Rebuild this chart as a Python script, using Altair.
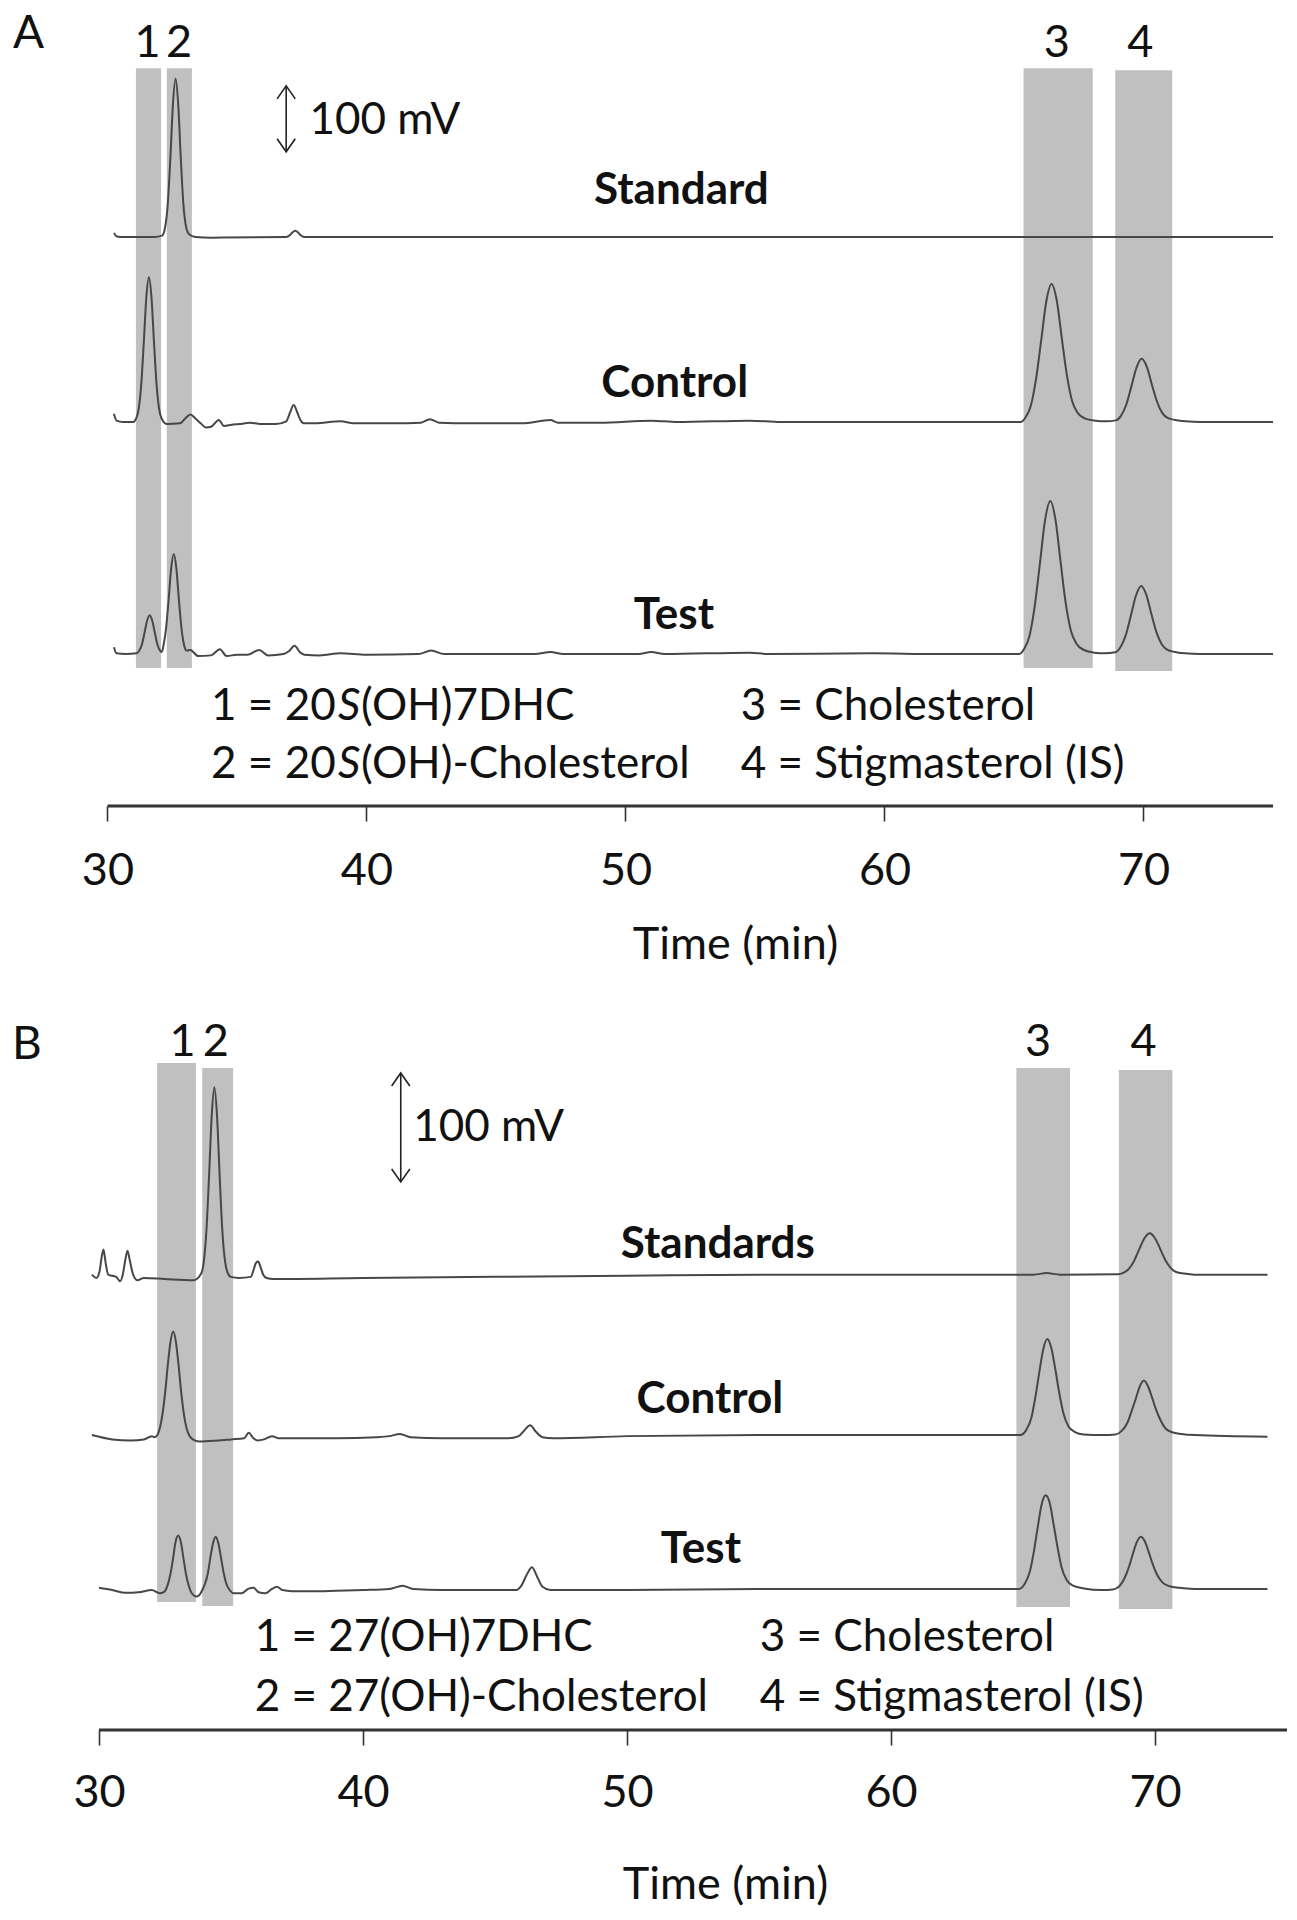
import altair as alt
import pandas as pd

FONT = "Lato"
LINE_COLOR = "#474747"
TEXT_COLOR = "#111111"
BAND_COLOR = "#c0c0c0"

# ---------------- Panel A traces: retention time (min) / signal above own baseline (mV)
A_STD_T = [30.25, 30.35, 30.5, 31.0, 31.8, 32.11, 32.23, 32.33, 32.43, 32.53, 32.63, 32.73, 32.83, 32.93, 33.03,
           33.15, 33.4, 34.0, 36.9, 37.05, 37.15, 37.25, 37.35, 37.45, 37.6, 40.0, 50.0, 60.0, 70.0, 75.0]
A_STD_V = [6, 1, 0, 0, 0, 2, 15, 49, 117, 196, 233, 196, 117, 49, 16,
           4, 0, -1, 0, 3, 7, 9, 7, 3, 0, 0, 0, 0, 0, 0]

A_CTL_T = [30.25, 30.35, 30.6, 31.0, 31.1, 31.2, 31.3, 31.4, 31.5, 31.6, 31.7, 31.8, 31.9, 32.0, 32.1,
           32.3, 32.8, 33.0, 33.2, 33.4, 33.6, 33.8, 34.0, 34.3, 34.5, 34.8, 35.1, 35.5, 35.9, 36.5,
           36.9, 37.05, 37.19, 37.33, 37.45, 37.6, 38.0, 39.0, 39.5, 41.0, 42.1, 42.45, 42.8, 44.0, 46.0,
           47.1, 47.4, 49.0, 51.0, 52.0, 54.8, 56.0, 60.0,
           65.25, 65.45, 65.65, 65.85, 66.05, 66.25, 66.45, 66.65, 66.85, 67.05, 67.25, 67.45, 67.75, 68.15, 68.55,
           68.93, 69.13, 69.33, 69.53, 69.73, 69.93, 70.13, 70.33, 70.53, 70.73, 70.93, 71.23, 71.63, 72.2, 75.0]
A_CTL_V = [12, 2, 0, 0, 4.5, 18, 53, 115, 183, 213, 183, 115, 53, 18, 4.5,
           -3, -2, 5, 11, 5, -2, -8, -7, 3, -6, -4, -3, -1, -3, -3,
           1, 14, 25, 14, 3, -2, -2, 1, -2, -2, -1, 4, -1, -2, -2,
           3, -1, -1, 2, 0, 2, 0, 0,
           0, 7, 24, 63, 120, 178, 203, 179, 122, 67, 30, 14, 5, 2, 1,
           2.4, 9, 25, 52, 80, 93, 81, 54, 29, 13, 6, 3, 1, 0, 0]

A_TST_T = [30.25, 30.35, 30.7, 31.13, 31.23, 31.33, 31.43, 31.53, 31.63, 31.73, 31.83, 31.93, 32.03, 32.1, 32.16,
           32.26, 32.36, 32.46, 32.56, 32.66, 32.76, 32.86, 32.96, 33.06, 33.2, 33.5, 34.0, 34.34, 34.6, 35.0,
           35.4, 35.86, 36.2, 36.8, 37.0, 37.22, 37.45, 37.6, 38.2, 39.0, 40.0, 42.0, 42.5, 43.0, 46.5,
           47.1, 47.6, 50.5, 51.0, 51.5, 54.8, 55.5, 59.5, 62.0,
           65.2, 65.4, 65.6, 65.8, 66.0, 66.2, 66.4, 66.6, 66.8, 67.0, 67.2, 67.4, 67.7, 68.1, 68.5,
           68.91, 69.11, 69.31, 69.51, 69.71, 69.91, 70.11, 70.31, 70.51, 70.71, 70.91, 71.21, 71.61, 72.2, 75.0]
A_TST_V = [10, 1, 0, 1, 5, 14, 31, 49, 57, 49, 31, 14, 5, 3, 12,
           37, 79, 126, 147, 126, 79, 37, 13, 5, 6, -3, -2, 7, -3, -1,
           -1, 6, -2, 0, 4, 12, 2, -1, -2, 1, -1, 0, 5, 0, 0,
           3, 0, 0, 3, 0, 2, 0, 1, 0,
           0, 8, 27, 70, 133, 197, 225, 198, 135, 74, 34, 16, 6, 2, 1,
           2.6, 10, 27, 56, 86, 100, 87, 58, 31, 14, 6.5, 3, 1, 0, 0]

# ---------------- Panel B traces
B_STD_T = [29.73, 29.9, 30.02, 30.1, 30.17, 30.25, 30.35, 30.5, 30.65, 30.8, 30.9, 31.0, 31.08, 31.16, 31.28,
           31.45, 31.7, 32.5, 33.6, 33.87, 33.97, 34.07, 34.17, 34.27, 34.37, 34.47, 34.57, 34.67, 34.77, 34.87,
           35.0, 35.3, 35.75, 35.85, 35.95, 36.03, 36.12, 36.22, 36.35, 36.6, 40.0, 45.0, 50.0, 55.0, 65.4,
           65.9, 66.4, 68.6, 68.8, 69.0, 69.2, 69.4, 69.6, 69.8, 70.0, 70.2, 70.4, 70.6, 70.8, 71.1,
           71.5, 74.26]
B_STD_V = [3, 0, 6, 19, 26, 14, 3, 2, 1, -3, 3, 17, 25, 17, 4,
           -2, 0, -1, -2, 4, 15, 44, 94, 149, 175, 149, 94, 44, 16, 5,
           1, 0, 1, 7, 14, 15, 10, 3, 0, -1, 0, 1, 2, 3, 3,
           4.5, 3, 3.4, 4.7, 8.1, 15.2, 26.2, 36.4, 41, 36.4, 26.5, 16, 9, 5.5, 4,
           3, 3]

B_CTL_T = [29.73, 30.5, 31.2, 31.7, 32.0, 32.11, 32.21, 32.31, 32.41, 32.51, 32.61, 32.71, 32.81, 32.91, 33.01,
           33.11, 33.21, 33.31, 33.41, 33.55, 33.8, 34.5, 35.0, 35.5, 35.67, 35.85, 36.0, 36.25, 36.55, 36.8,
           37.5, 39.0, 40.5, 41.0, 41.4, 41.8, 43.0, 45.5, 45.9, 46.1, 46.33, 46.55, 46.8, 47.2, 50.0,
           55.0, 60.0, 64.9, 65.12, 65.32, 65.47, 65.62, 65.77, 65.92, 66.07, 66.22, 66.37, 66.52, 66.72, 66.95,
           67.3, 68.0, 68.5, 68.75, 68.95, 69.13, 69.28, 69.43, 69.58, 69.73, 69.88, 70.03, 70.2, 70.4, 70.65,
           71.0, 71.5, 74.26]
B_CTL_V = [3, -1, -2, -1, 2, 1, 3, 10, 23, 43, 68, 89, 98, 89, 68,
           43, 23, 10, 3, -1, -3, -2, -1, 0, 5, 0, -2, -1, 2, 0,
           0, 0, 1, 2, 4, 1, 0, 0, 2, 7, 12, 6, 1, 0, 2,
           3, 3, 3, 7.5, 19, 38, 61, 82, 91, 83, 64, 42, 24, 11, 6,
           3.5, 3, 3.5, 7, 14, 26, 37, 48, 53, 48, 38, 27, 17, 9, 5.5,
           4, 3, 1.5]

B_TST_T = [30.0, 30.5, 31.0, 31.5, 32.0, 32.3, 32.45, 32.6, 32.7, 32.8, 32.9, 33.0, 33.1, 33.2, 33.3,
           33.4, 33.55, 33.7, 33.85, 33.95, 34.02, 34.12, 34.22, 34.32, 34.42, 34.52, 34.62, 34.72, 34.82, 34.95,
           35.1, 35.4, 35.65, 35.85, 36.05, 36.3, 36.55, 36.74, 36.95, 37.3, 38.5, 40.0, 41.0, 41.5, 41.9,
           43.0, 45.8, 46.0, 46.2, 46.4, 46.6, 46.8, 47.1, 50.0, 55.0, 60.0, 64.85, 65.06, 65.26, 65.41,
           65.56, 65.71, 65.86, 66.01, 66.16, 66.31, 66.46, 66.66, 66.9, 67.3, 68.0, 68.4, 68.65, 68.85, 69.01,
           69.16, 69.31, 69.46, 69.61, 69.76, 69.91, 70.08, 70.28, 70.55, 70.9, 71.5, 74.26]
B_TST_V = [2, 0, -2.5, -2, 0, -3, -2, 4.5, 14, 28, 44, 50, 44, 29, 14,
           4, -4, -6, -3, 2, 6, 15, 30, 43, 49, 43, 30, 16, 6, 0,
           -3, -3, 1, 2, -2, -3, 1, 3, 0, -1, -1, 0, 1, 4, 1,
           0, 0, 4, 14, 21, 12, 3, 0, 0, 1, 1, 1, 5.5, 17, 35,
           58, 79, 87, 80, 60, 39, 21, 9, 4, 1.5, 0, 0.5, 3.5, 11, 21,
           33, 44, 49, 45, 35, 24, 14, 7, 3.5, 2, 1, 1]

# ---------------- categories / labels
TRACES_A = ["Standard", "Control", "Test"]
TRACES_B = ["Standards", "Control", "Test"]
PEAK_IDS = ["1", "2", "3", "4"]
BAND_A_START = [31.1, 32.29, 65.37, 68.91]
BAND_A_END = [32.07, 33.26, 68.04, 71.11]
BAND_B_START = [32.2, 33.91, 64.75, 68.63]
BAND_B_END = [33.67, 35.08, 66.78, 70.66]
X_TICKS = [30, 40, 50, 60, 70]
X_AXIS_RANGE = [30, 75]
SCALE_BAR_MV = 100
LEGEND_A_LEFT = ["1 = 20", "2 = 20"]
LEGEND_A_ITALIC = ["S", "S"]
LEGEND_A_REST = ["(OH)7DHC", "(OH)-Cholesterol"]
LEGEND_A_RIGHT = ["3 = Cholesterol", "4 = Stigmasterol (IS)"]
LEGEND_B_LEFT = ["1 = 27(OH)7DHC", "2 = 27(OH)-Cholesterol"]
LEGEND_B_RIGHT = ["3 = Cholesterol", "4 = Stigmasterol (IS)"]

# ---------------- layout (positions in min / mV of each panel's own scales)
LAYOUT = {
    "A": dict(width=1265, height=798, xdom=[26.16, 75.0], ydom=[0, 1173.5],
              bases=[836.8, 564.7, 223.5],
              band_top=[1085, 1085, 1085, 1082], band_bot=[203, 203, 203, 198.5],
              peak_lab_t=[31.55, 32.76, 66.65, 69.88], peak_lab_y=1122,
              panel_t=26.95, panel_y=1135,
              arrow_t=36.9, arrow_top=1059, arrow_bot=962, mv_t=37.8, mv_y=1008,
              name_t=[52.16, 51.9, 51.87], name_y=[904, 620, 279],
              leg_t=[34.0, 54.45], leg_y=[146, 60],
              label_pad=49, title_x=727, title_y=138),
    "B": dict(width=1279, height=730, xdom=[26.553, 75.0], ydom=[0, 669.7],
              bases=[414.7, 267.6, 128.4],
              band_top=[611.9, 607.3, 607.3, 605.5], band_bot=[117.4, 113.8, 112.8, 111],
              peak_lab_t=[33.16, 34.42, 65.57, 69.57], peak_lab_y=631,
              panel_t=27.27, panel_y=628,
              arrow_t=41.43, arrow_top=602.8, arrow_bot=502.8, mv_t=41.9, mv_y=552,
              name_t=[53.44, 53.14, 52.8], name_y=[444.5, 302.8, 165.1],
              leg_t=[35.9, 55.03], leg_y=[84, 29.7],
              label_pad=47, title_x=717, title_y=154),
}


def build_panel(key, panel_label, names, t_lists, v_lists, band_start, band_end,
                legend_left, legend_right, legend_italic=None, legend_rest=None):
    L = LAYOUT[key]
    axis = alt.Axis(values=X_TICKS, format="d", domain=False, grid=False,
                    ticks=True, tickSize=15, tickWidth=1.6, tickColor="#333333",
                    labelFont=FONT, labelFontSize=45, labelColor=TEXT_COLOR,
                    labelBaseline="middle", labelPadding=L["label_pad"], labelFlush=False,
                    title="Time (min)", titleFont=FONT, titleFontSize=45,
                    titleFontWeight="normal", titleColor=TEXT_COLOR,
                    titleX=L["title_x"], titleY=L["title_y"],
                    titleAlign="center", titleBaseline="middle")
    xs = alt.Scale(domain=L["xdom"], nice=False, zero=False)
    ys = alt.Scale(domain=L["ydom"], nice=False, zero=False)
    X = lambda f: alt.X(f"{f}:Q", scale=xs, axis=axis)
    Y = lambda f: alt.Y(f"{f}:Q", scale=ys, axis=None)

    rows = []
    for name, ts, vs, base in zip(names, t_lists, v_lists, L["bases"]):
        for t, v in zip(ts, vs):
            rows.append({"t": t, "y": base + v, "trace": name})
    traces = pd.DataFrame(rows)

    bands = pd.DataFrame({"t": band_start, "t2": band_end,
                          "y": L["band_top"], "y2": L["band_bot"], "label": PEAK_IDS})
    band_layer = alt.Chart(bands).mark_rect(color=BAND_COLOR).encode(
        x=X("t"), x2="t2", y=Y("y"), y2="y2")

    line_layer = alt.Chart(traces).mark_line(
        interpolate="monotone", color=LINE_COLOR, strokeWidth=2).encode(
        x=X("t"), y=Y("y"), detail="trace:N", order="t:Q")

    txt = dict(font=FONT, color=TEXT_COLOR, baseline="middle")

    peak_lab = pd.DataFrame({"t": L["peak_lab_t"], "y": [L["peak_lab_y"]] * 4, "label": PEAK_IDS})
    peak_layer = alt.Chart(peak_lab).mark_text(fontSize=45, align="center", **txt).encode(
        x=X("t"), y=Y("y"), text="label:N")

    pl = pd.DataFrame({"t": [L["panel_t"]], "y": [L["panel_y"]], "label": [panel_label]})
    panel_layer = alt.Chart(pl).mark_text(fontSize=46, align="center", **txt).encode(
        x=X("t"), y=Y("y"), text="label:N")

    nm = pd.DataFrame({"t": L["name_t"], "y": L["name_y"], "label": names})
    name_layer = alt.Chart(nm).mark_text(fontSize=44, fontWeight="bold", align="center", **txt).encode(
        x=X("t"), y=Y("y"), text="label:N")

    # 100 mV scale bar
    bar = pd.DataFrame({"t": [L["arrow_t"]], "y": [L["arrow_top"]], "y2": [L["arrow_bot"]]})
    bar_layer = alt.Chart(bar).mark_rule(color="#222222", strokeWidth=1.6).encode(
        x=X("t"), y=Y("y"), y2="y2")
    head_up = alt.Chart(bar).mark_point(shape="M-0.7,1L0,0L0.7,1", size=676, filled=False,
                                        color="#222222", strokeWidth=1.6, opacity=1).encode(
        x=X("t"), y=Y("y"))
    head_dn = alt.Chart(bar).mark_point(shape="M-0.7,-1L0,0L0.7,-1", size=676, filled=False,
                                        color="#222222", strokeWidth=1.6, opacity=1).encode(
        x=X("t"), y=Y("y2"))
    mv = pd.DataFrame({"t": [L["mv_t"]], "y": [L["mv_y"]], "label": [f"{SCALE_BAR_MV} mV"]})
    mv_layer = alt.Chart(mv).mark_text(fontSize=44, align="left", **txt).encode(
        x=X("t"), y=Y("y"), text="label:N")

    # compound legend
    layers_leg = []
    lr = pd.DataFrame({"t": [L["leg_t"][1]] * 2, "y": L["leg_y"], "label": legend_right})
    layers_leg.append(alt.Chart(lr).mark_text(fontSize=44, align="left", **txt).encode(
        x=X("t"), y=Y("y"), text="label:N"))
    ll = pd.DataFrame({"t": [L["leg_t"][0]] * 2, "y": L["leg_y"], "label": legend_left})
    layers_leg.append(alt.Chart(ll).mark_text(fontSize=44, align="left", **txt).encode(
        x=X("t"), y=Y("y"), text="label:N"))
    if legend_italic is not None:
        li = pd.DataFrame({"t": [L["leg_t"][0]] * 2, "y": L["leg_y"], "label": legend_italic})
        layers_leg.append(alt.Chart(li).mark_text(fontSize=44, align="left", dx=127,
                                                  fontStyle="italic", **txt).encode(
            x=X("t"), y=Y("y"), text="label:N"))
        lrest = pd.DataFrame({"t": [L["leg_t"][0]] * 2, "y": L["leg_y"], "label": legend_rest})
        layers_leg.append(alt.Chart(lrest).mark_text(fontSize=44, align="left", dx=150, **txt).encode(
            x=X("t"), y=Y("y"), text="label:N"))

    ax = pd.DataFrame({"t": [X_AXIS_RANGE[0]], "t2": [X_AXIS_RANGE[1]], "y": [0]})
    axis_layer = alt.Chart(ax).mark_rule(color="#333333", strokeWidth=3).encode(
        x=X("t"), x2="t2", y=Y("y"))

    return alt.layer(band_layer, line_layer, peak_layer, panel_layer, name_layer,
                     bar_layer, head_up, head_dn, mv_layer, *layers_leg, axis_layer).properties(
        width=L["width"], height=L["height"])


panel_a = build_panel("A", "A", TRACES_A, [A_STD_T, A_CTL_T, A_TST_T], [A_STD_V, A_CTL_V, A_TST_V],
                      BAND_A_START, BAND_A_END, LEGEND_A_LEFT, LEGEND_A_RIGHT,
                      LEGEND_A_ITALIC, LEGEND_A_REST)
panel_b = build_panel("B", "B", TRACES_B, [B_STD_T, B_CTL_T, B_TST_T], [B_STD_V, B_CTL_V, B_TST_V],
                      BAND_B_START, BAND_B_END, LEGEND_B_LEFT, LEGEND_B_RIGHT)

chart = alt.vconcat(panel_a, panel_b, spacing=194, bounds="flush").properties(
    padding=0).configure(background="white").configure_view(strokeWidth=0, stroke="transparent")

chart.save("out.html", embed_options={"renderer": "svg", "actions": False})
